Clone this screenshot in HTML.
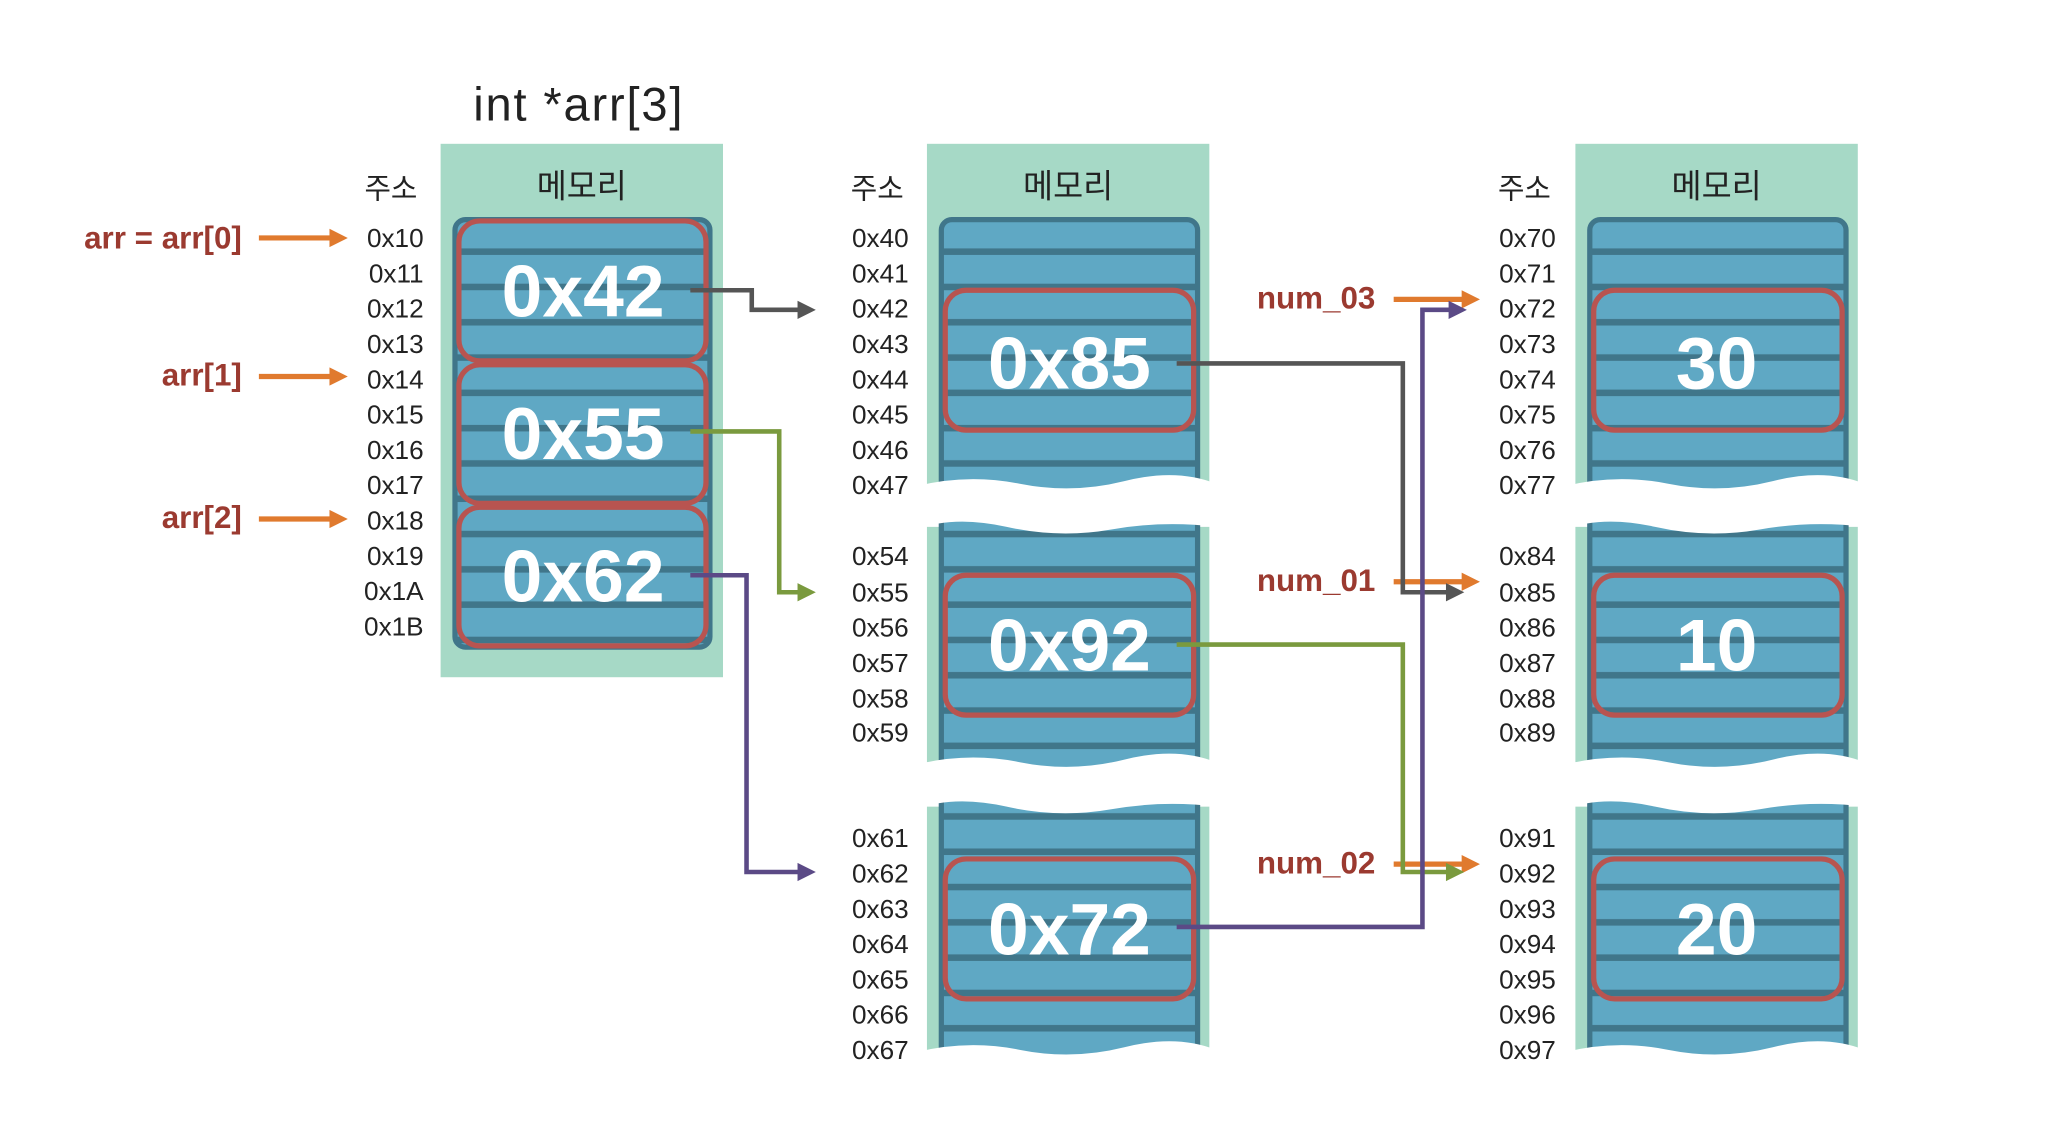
<!DOCTYPE html>
<html><head><meta charset="utf-8"><style>
html,body{margin:0;padding:0;background:#fff;}
svg{display:block;}
text{font-family:"Liberation Sans","Noto Sans CJK KR",sans-serif;}
.ad{font-size:20px;fill:#222;text-anchor:end;}
.hd{font-size:25px;fill:#222;text-anchor:middle;font-family:"Noto Sans CJK KR",sans-serif;}
.val{font-size:56px;fill:#fff;font-weight:bold;text-anchor:middle;}
.lb{font-size:24px;fill:#9b3a30;font-weight:bold;text-anchor:end;}
</style></head><body>
<svg width="2050" height="1128" viewBox="0 0 1568 862.8" xmlns="http://www.w3.org/2000/svg">
<defs>
<pattern id="st" patternUnits="userSpaceOnUse" x="0" y="168" width="20" height="27">
<rect width="20" height="27" fill="#5fa8c4"/>
<rect y="22" width="20" height="5" fill="#40768a"/>
</pattern>
</defs>

<text x="362" y="92" font-size="36" fill="#222" textLength="160">int *arr[3]</text>

<!-- column 1 -->
<rect x="337" y="110" width="216" height="408" fill="#a6d9c6"/>
<text class="hd" x="445" y="151">메모리</text>
<text class="hd" x="299" y="152" style="font-size:22px">주소</text>
<rect x="348" y="168" width="195" height="327" rx="8" fill="url(#st)" stroke="#40768a" stroke-width="4"/>
<rect x="351" y="169" width="189" height="107" rx="16" fill="none" stroke="#b85450" stroke-width="4"/>
<rect x="351" y="279" width="189" height="106" rx="16" fill="none" stroke="#b85450" stroke-width="4"/>
<rect x="351" y="388" width="189" height="106" rx="16" fill="none" stroke="#b85450" stroke-width="4"/>
<text class="val" x="446" y="242">0x42</text>
<text class="val" x="446" y="351">0x55</text>
<text class="val" x="446" y="460">0x62</text>
<text class="ad" x="324" y="189">0x10</text><text class="ad" x="324" y="216">0x11</text><text class="ad" x="324" y="243">0x12</text><text class="ad" x="324" y="270">0x13</text>
<text class="ad" x="324" y="297">0x14</text><text class="ad" x="324" y="324">0x15</text><text class="ad" x="324" y="351">0x16</text><text class="ad" x="324" y="378">0x17</text>
<text class="ad" x="324" y="405">0x18</text><text class="ad" x="324" y="432">0x19</text><text class="ad" x="324" y="459">0x1A</text><text class="ad" x="324" y="486">0x1B</text>
<text class="lb" x="185" y="190">arr = arr[0]</text>
<text class="lb" x="185" y="295">arr[1]</text>
<text class="lb" x="185" y="404">arr[2]</text>
<g stroke="#e07a2e" stroke-width="4" fill="#e07a2e">
<line x1="198" y1="182" x2="254" y2="182"/><path d="M252,175 L266,182 L252,189Z" stroke="none"/>
<line x1="198" y1="288" x2="254" y2="288"/><path d="M252,281 L266,288 L252,295Z" stroke="none"/>
<line x1="198" y1="397" x2="254" y2="397"/><path d="M252,390 L266,397 L252,404Z" stroke="none"/>
</g>

<!-- column 2 -->
<rect x="709" y="110" width="216" height="262" fill="#a6d9c6"/>
<rect x="709" y="403" width="216" height="180" fill="#a6d9c6"/>
<rect x="709" y="617" width="216" height="188" fill="#a6d9c6"/>
<text class="hd" x="817" y="151">메모리</text>
<text class="hd" x="671" y="152" style="font-size:22px">주소</text>
<rect x="720" y="168" width="196" height="220" rx="8" fill="url(#st)" stroke="#40768a" stroke-width="4"/>
<rect x="720" y="395" width="196" height="200" rx="4" fill="url(#st)" stroke="#40768a" stroke-width="4"/>
<rect x="720" y="610" width="196" height="205" rx="4" fill="url(#st)" stroke="#40768a" stroke-width="4"/>
<rect x="723" y="222" width="190" height="107" rx="16" fill="none" stroke="#b85450" stroke-width="4"/>
<rect x="723" y="440" width="190" height="107" rx="16" fill="none" stroke="#b85450" stroke-width="4"/>
<rect x="723" y="657" width="190" height="107" rx="16" fill="none" stroke="#b85450" stroke-width="4"/>
<text class="val" x="818" y="297">0x85</text>
<text class="val" x="818" y="513">0x92</text>
<text class="val" x="818" y="730">0x72</text>

<!-- column 3 -->
<rect x="1205" y="110" width="216" height="262" fill="#a6d9c6"/>
<rect x="1205" y="403" width="216" height="180" fill="#a6d9c6"/>
<rect x="1205" y="617" width="216" height="188" fill="#a6d9c6"/>
<text class="hd" x="1313" y="151">메모리</text>
<text class="hd" x="1166" y="152" style="font-size:22px">주소</text>
<rect x="1216" y="168" width="196" height="220" rx="8" fill="url(#st)" stroke="#40768a" stroke-width="4"/>
<rect x="1216" y="395" width="196" height="200" rx="4" fill="url(#st)" stroke="#40768a" stroke-width="4"/>
<rect x="1216" y="610" width="196" height="205" rx="4" fill="url(#st)" stroke="#40768a" stroke-width="4"/>
<rect x="1219" y="222" width="190" height="107" rx="16" fill="none" stroke="#b85450" stroke-width="4"/>
<rect x="1219" y="440" width="190" height="107" rx="16" fill="none" stroke="#b85450" stroke-width="4"/>
<rect x="1219" y="657" width="190" height="107" rx="16" fill="none" stroke="#b85450" stroke-width="4"/>
<text class="val" x="1313" y="297">30</text>
<text class="val" x="1313" y="513">10</text>
<text class="val" x="1313" y="730">20</text>

<!-- wavy white cut-outs -->
<g fill="#fff">
<path d="M700,372 Q740,362 780,370 T860,368 T930,370 L930,403 Q890,398 850,405 T770,403 T700,405 Z"/>
<path d="M700,585 Q740,575 780,583 T860,581 T930,583 L930,617 Q890,612 850,619 T770,617 T700,619 Z"/>
<path d="M700,805 Q740,795 780,803 T860,801 T930,803 L930,830 L700,830 Z"/>
<path d="M1196,372 Q1236,362 1276,370 T1356,368 T1426,370 L1426,403 Q1386,398 1346,405 T1266,403 T1196,405 Z"/>
<path d="M1196,585 Q1236,575 1276,583 T1356,581 T1426,583 L1426,617 Q1386,612 1346,619 T1266,617 T1196,619 Z"/>
<path d="M1196,805 Q1236,795 1276,803 T1356,801 T1426,803 L1426,830 L1196,830 Z"/>
</g>
<!-- addresses col2 -->
<text class="ad" x="695" y="189">0x40</text><text class="ad" x="695" y="216">0x41</text><text class="ad" x="695" y="243">0x42</text><text class="ad" x="695" y="270">0x43</text>
<text class="ad" x="695" y="297">0x44</text><text class="ad" x="695" y="324">0x45</text><text class="ad" x="695" y="351">0x46</text><text class="ad" x="695" y="378">0x47</text>
<text class="ad" x="695" y="432">0x54</text><text class="ad" x="695" y="460">0x55</text><text class="ad" x="695" y="487">0x56</text><text class="ad" x="695" y="514">0x57</text><text class="ad" x="695" y="541">0x58</text><text class="ad" x="695" y="567">0x59</text>
<text class="ad" x="695" y="648">0x61</text><text class="ad" x="695" y="675">0x62</text><text class="ad" x="695" y="702">0x63</text><text class="ad" x="695" y="729">0x64</text><text class="ad" x="695" y="756">0x65</text><text class="ad" x="695" y="783">0x66</text><text class="ad" x="695" y="810">0x67</text>
<!-- addresses col3 -->
<text class="ad" x="1190" y="189">0x70</text><text class="ad" x="1190" y="216">0x71</text><text class="ad" x="1190" y="243">0x72</text><text class="ad" x="1190" y="270">0x73</text>
<text class="ad" x="1190" y="297">0x74</text><text class="ad" x="1190" y="324">0x75</text><text class="ad" x="1190" y="351">0x76</text><text class="ad" x="1190" y="378">0x77</text>
<text class="ad" x="1190" y="432">0x84</text><text class="ad" x="1190" y="460">0x85</text><text class="ad" x="1190" y="487">0x86</text><text class="ad" x="1190" y="514">0x87</text><text class="ad" x="1190" y="541">0x88</text><text class="ad" x="1190" y="567">0x89</text>
<text class="ad" x="1190" y="648">0x91</text><text class="ad" x="1190" y="675">0x92</text><text class="ad" x="1190" y="702">0x93</text><text class="ad" x="1190" y="729">0x94</text><text class="ad" x="1190" y="756">0x95</text><text class="ad" x="1190" y="783">0x96</text><text class="ad" x="1190" y="810">0x97</text>

<!-- num labels + orange arrows -->
<text class="lb" x="1052" y="236">num_03</text>
<text class="lb" x="1052" y="452">num_01</text>
<text class="lb" x="1052" y="668">num_02</text>
<g stroke="#e07a2e" stroke-width="4" fill="#e07a2e">
<line x1="1066" y1="229" x2="1120" y2="229"/><path d="M1118,222 L1132,229 L1118,236Z" stroke="none"/>
<line x1="1066" y1="445" x2="1120" y2="445"/><path d="M1118,438 L1132,445 L1118,452Z" stroke="none"/>
<line x1="1066" y1="661" x2="1120" y2="661"/><path d="M1118,654 L1132,661 L1118,668Z" stroke="none"/>
</g>

<!-- connectors -->
<g fill="none" stroke-width="3.5">
<polyline points="528,222 575,222 575,237 612,237" stroke="#555"/>
<polyline points="528,330 596,330 596,453 612,453" stroke="#7a9a3e"/>
<polyline points="528,440 571,440 571,667 612,667" stroke="#5b4a86"/>
<polyline points="900,278 1073,278 1073,453 1108,453" stroke="#555"/>
<polyline points="900,493 1073,493 1073,667 1108,667" stroke="#7a9a3e"/>
<polyline points="900,709 1088,709 1088,237 1110,237" stroke="#5b4a86"/>
</g>
<path d="M610,230 L624,237 L610,244Z" fill="#555"/>
<path d="M610,446 L624,453 L610,460Z" fill="#7a9a3e"/>
<path d="M610,660 L624,667 L610,674Z" fill="#5b4a86"/>
<path d="M1106,446 L1120,453 L1106,460Z" fill="#555"/>
<path d="M1106,660 L1120,667 L1106,674Z" fill="#7a9a3e"/>
<path d="M1108,230 L1122,237 L1108,244Z" fill="#5b4a86"/>
</svg>
</body></html>
